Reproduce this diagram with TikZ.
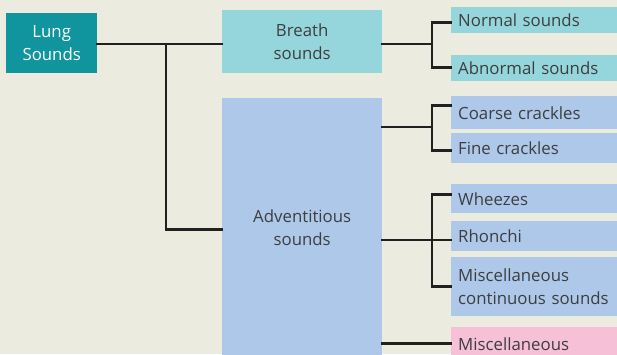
\documentclass[tikz,border=0pt]{standalone}
\usepackage{fontspec}
\setmainfont{Open Sans}
\usepackage{tikz}
\definecolor{bg}{HTML}{EBECDF}
\definecolor{teal600}{HTML}{10959E}
\definecolor{cyan200}{HTML}{95D6DC}
\definecolor{blue200}{HTML}{ADC8E9}
\definecolor{pink200}{HTML}{F6C0D6}
\definecolor{ink}{HTML}{231F20}
\definecolor{txt}{HTML}{3E3E40}
\tikzstyle{box}=[rectangle, inner sep=0pt, anchor=north west, font=\fontsize{16.8}{23.5}\selectfont, text=txt]
\tikzstyle{leaf}=[box, align=left, text width=152pt, inner xsep=7pt]
\tikzstyle{link}=[draw=ink, line width=2.6pt, line cap=rect]

\begin{document}
\begin{tikzpicture}[x=1pt, y=-1pt]
				\useasboundingbox[fill=bg] (0,0) rectangle (617,354);
				\node[box, fill=teal600, text=white, align=center, minimum width=91pt, minimum height=60pt] (ls) at (6,13) {Lung\\Sounds};
				\node[box, fill=cyan200, align=center, minimum width=160pt, minimum height=63pt] (bs) at (222,10) {Breath\\sounds};
				\node[box, fill=blue200, align=center, minimum width=160pt, minimum height=262pt] (as) at (222,98) {\raisebox{3pt}{\shortstack{Adventitious\\[7pt]sounds}}};
				\node[leaf, fill=cyan200, minimum height=26pt] (ns) at (451,7) {Normal sounds};
				\node[leaf, fill=cyan200, minimum height=26pt] (abs) at (451,55) {Abnormal sounds};
				\node[leaf, fill=blue200, minimum height=33pt] (cc) at (451,96) {Coarse crackles};
				\node[leaf, fill=blue200, minimum height=30pt] (fc) at (451,133) {Fine crackles};
				\node[leaf, fill=blue200, minimum height=29pt] (wh) at (451,184) {Wheezes};
				\node[leaf, fill=blue200, minimum height=30pt] (rh) at (451,221) {Rhonchi};
				\node[leaf, fill=blue200, minimum height=59pt] (mc) at (451,257) {Miscellaneous\\continuous sounds};
				\node[leaf, fill=pink200, minimum height=33pt] (mi) at (451,327) {Miscellaneous};
				% junctions
				\coordinate (j1) at (166,44);
				\coordinate (j2) at (432,44);
				\coordinate (j3) at (432,127);
				\coordinate (j4) at (432,240);
				\path[link] (ls.east |- j1) -- (bs.west |- j1);
				\path[link] (j1) |- (as.west);
				\path[link] (bs.east |- j2) -- (j2);
				\path[link] ([yshift=-2pt]ns.west) -| (j2) |- ([yshift=1pt]abs.west);
				\path[link] (as.east |- j3) -- (j3);
				\path[link] ([yshift=7.5pt]cc.west) -| (j3) |- ([yshift=-2pt]fc.west);
				\path[link] (as.east |- j4) -- (j4 -| rh.west);
				\path[link] ([yshift=4.5pt]wh.west) -| (j4) |- (mc.west);
				\path[link] (as.east |- mi.west) -- (mi.west);
			\end{tikzpicture}
\end{document}
